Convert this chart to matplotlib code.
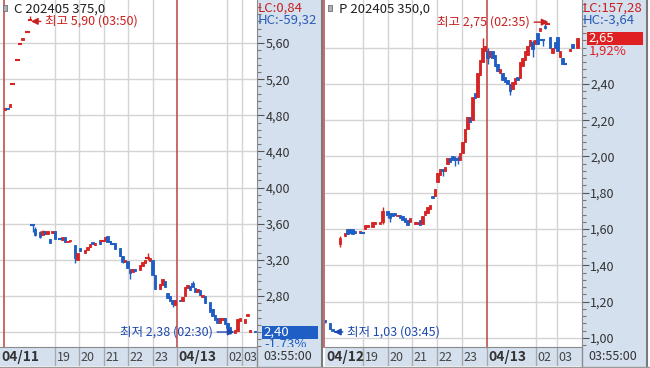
import matplotlib
matplotlib.use('Agg')
import matplotlib.pyplot as plt
import matplotlib.transforms as mtransforms
from matplotlib.patches import Rectangle
from matplotlib.ticker import FixedLocator, MultipleLocator, FuncFormatter

plt.rcParams['font.family'] = ['Noto Sans CJK KR', 'DejaVu Sans']
plt.rcParams['font.size'] = 9

# ---- call C 202405 375.0 (bar number, open, close, high, low) ----
c_slot = [2, 3, 4, 5, 7, 8, 9, 11, 12, 13, 14, 16, 17, 18, 19, 20, 21, 22, 24, 25,
          26, 27, 28, 30, 31, 32, 34, 35, 36, 37, 38, 40, 41, 42, 43, 44, 45, 46, 48, 49,
          50, 51, 52, 53, 54, 56, 57, 58, 59, 60, 61, 62, 64, 65, 66, 67, 68, 69, 70, 72,
          73, 74, 75, 76, 77, 78, 79, 80, 81, 82, 84, 85, 86, 87, 88, 89, 90, 91, 92, 94,
          95, 96, 98, 99, 100, 102]
c_open = [4.86, 4.88, 4.89, 5.15, 5.41, 5.59, 5.63, 5.72, 5.85, 3.58, 3.54, 3.51, 3.47, 3.52, 3.48, 3.43, 3.50, 3.52, 3.43, 3.42,
          3.45, 3.40, 3.41, 3.36, 3.20, 3.33, 3.27, 3.31, 3.34, 3.40, 3.36, 3.42, 3.41, 3.41, 3.46, 3.40, 3.37, 3.39, 3.33, 3.24,
          3.17, 3.19, 3.10, 3.06, 3.10, 3.09, 3.13, 3.16, 3.22, 3.19, 3.20, 3.03, 2.88, 2.92, 2.96, 2.83, 2.80, 2.76, 2.70, 2.76,
          2.74, 2.80, 2.89, 2.91, 2.94, 2.89, 2.84, 2.86, 2.79, 2.80, 2.73, 2.65, 2.59, 2.55, 2.50, 2.53, 2.55, 2.50, 2.45, 2.39,
          2.41, 2.52, 2.50, 2.58, 2.40, 2.41]
c_close = [4.88, 4.87, 4.92, 5.15, 5.41, 5.59, 5.66, 5.72, 5.85, 3.58, 3.47, 3.45, 3.52, 3.49, 3.52, 3.39, 3.52, 3.43, 3.43, 3.45,
           3.40, 3.41, 3.42, 3.22, 3.28, 3.30, 3.31, 3.34, 3.37, 3.37, 3.39, 3.38, 3.41, 3.45, 3.40, 3.40, 3.37, 3.32, 3.24, 3.17,
           3.20, 3.11, 3.05, 3.10, 3.08, 3.14, 3.17, 3.20, 3.22, 3.22, 3.03, 2.88, 2.93, 2.99, 2.90, 2.78, 2.74, 2.71, 2.76, 2.74,
           2.79, 2.90, 2.92, 2.86, 2.90, 2.84, 2.88, 2.81, 2.81, 2.72, 2.62, 2.58, 2.53, 2.50, 2.55, 2.56, 2.49, 2.44, 2.39, 2.42,
           2.54, 2.55, 2.54, 2.60, 2.42, 2.40]
c_high = [4.88, 4.88, 4.92, 5.15, 5.41, 5.59, 5.66, 5.72, 5.90, 3.58, 3.56, 3.52, 3.53, 3.52, 3.52, 3.43, 3.52, 3.52, 3.43, 3.45,
          3.45, 3.41, 3.42, 3.36, 3.28, 3.33, 3.31, 3.34, 3.37, 3.40, 3.39, 3.42, 3.41, 3.45, 3.46, 3.40, 3.37, 3.39, 3.33, 3.24,
          3.20, 3.19, 3.10, 3.10, 3.10, 3.14, 3.17, 3.20, 3.27, 3.22, 3.20, 3.03, 2.93, 2.99, 2.96, 2.83, 2.80, 2.76, 2.76, 2.76,
          2.79, 2.90, 2.92, 2.91, 2.96, 2.89, 2.88, 2.86, 2.81, 2.80, 2.73, 2.65, 2.59, 2.55, 2.55, 2.56, 2.55, 2.50, 2.46, 2.42,
          2.54, 2.55, 2.54, 2.60, 2.42, 2.41]
c_low = [4.86, 4.87, 4.89, 5.15, 5.41, 5.59, 5.63, 5.72, 5.85, 3.51, 3.46, 3.44, 3.47, 3.48, 3.48, 3.39, 3.50, 3.43, 3.43, 3.42,
         3.40, 3.40, 3.40, 3.16, 3.20, 3.30, 3.27, 3.31, 3.34, 3.37, 3.36, 3.38, 3.41, 3.41, 3.40, 3.40, 3.37, 3.32, 3.24, 3.16,
         3.17, 3.11, 2.99, 3.06, 3.08, 3.09, 3.13, 3.16, 3.20, 3.19, 3.03, 2.88, 2.88, 2.92, 2.90, 2.78, 2.74, 2.68, 2.70, 2.74,
         2.74, 2.80, 2.89, 2.86, 2.90, 2.84, 2.84, 2.81, 2.79, 2.72, 2.62, 2.58, 2.53, 2.50, 2.50, 2.53, 2.49, 2.44, 2.38, 2.39,
         2.41, 2.52, 2.50, 2.58, 2.40, 2.40]
c_ygrid = [2.40, 2.80, 3.20, 3.60, 4.00, 4.40, 4.80, 5.20, 5.60]
c_yticks = [2.80, 3.20, 3.60, 4.00, 4.40, 4.80, 5.20, 5.60]   # 2,40 sits under the price box
c_hour_pos = [0, 22, 31.6, 41.6, 51.2, 61.2, 70.8, 90.8, 96.8]
c_hour_lbl = ['04/11', '19', '20', '21', '22', '23', '04/13', '02', '03']
c_day_pos = [1.6, 70.8]

# ---- put P 202405 350.0 ----
p_slot = [0, 2, 3, 4, 6, 8, 9, 10, 11, 12, 14, 15, 16, 17, 19, 20, 22, 23, 25, 26,
          27, 28, 29, 30, 31, 32, 33, 34, 36, 37, 38, 39, 40, 41, 42, 43, 44, 45, 46, 47,
          48, 49, 50, 51, 52, 53, 54, 55, 56, 57, 58, 59, 60, 61, 62, 63, 64, 65, 66, 67,
          68, 69, 70, 71, 72, 73, 74, 75, 76, 77, 78, 79, 80, 81, 82, 83, 84, 85, 86, 87,
          88, 89, 90, 91, 92, 93, 94, 95, 96, 98, 99, 101]
p_open = [1.10, 1.08, 1.05, 1.04, 1.52, 1.56, 1.60, 1.60, 1.60, 1.59, 1.58, 1.58, 1.60, 1.61, 1.61, 1.63, 1.63, 1.64, 1.70, 1.69,
          1.69, 1.69, 1.67, 1.68, 1.67, 1.66, 1.65, 1.64, 1.63, 1.63, 1.65, 1.63, 1.68, 1.69, 1.71, 1.78, 1.78, 1.86, 1.90, 1.93,
          1.92, 1.96, 1.99, 2.00, 1.99, 1.99, 1.98, 2.02, 2.08, 2.15, 2.22, 2.20, 2.35, 2.33, 2.45, 2.52, 2.58, 2.58, 2.55, 2.58,
          2.56, 2.51, 2.46, 2.46, 2.44, 2.42, 2.40, 2.37, 2.40, 2.44, 2.43, 2.50, 2.53, 2.56, 2.61, 2.63, 2.62, 2.68, 2.69, 2.64,
          2.72, 2.73, 2.66, 2.57, 2.63, 2.66, 2.55, 2.54, 2.51, 2.58, 2.62, 2.60]
p_close = [1.09, 1.05, 1.04, 1.03, 1.55, 1.58, 1.57, 1.58, 1.57, 1.58, 1.59, 1.58, 1.62, 1.62, 1.64, 1.64, 1.64, 1.70, 1.68, 1.66,
           1.67, 1.68, 1.68, 1.66, 1.65, 1.64, 1.62, 1.66, 1.64, 1.64, 1.62, 1.67, 1.70, 1.72, 1.73, 1.77, 1.82, 1.91, 1.93, 1.92,
           1.94, 1.99, 1.97, 1.98, 1.98, 1.98, 2.02, 2.08, 2.15, 2.22, 2.19, 2.33, 2.32, 2.46, 2.53, 2.60, 2.61, 2.54, 2.58, 2.54,
           2.50, 2.47, 2.48, 2.42, 2.41, 2.40, 2.36, 2.41, 2.43, 2.42, 2.52, 2.54, 2.58, 2.61, 2.64, 2.59, 2.64, 2.62, 2.71, 2.64,
           2.71, 2.73, 2.60, 2.60, 2.60, 2.58, 2.58, 2.51, 2.51, 2.59, 2.60, 2.65]
p_high = [1.10, 1.08, 1.05, 1.04, 1.56, 1.58, 1.60, 1.60, 1.60, 1.59, 1.59, 1.58, 1.62, 1.62, 1.64, 1.64, 1.64, 1.72, 1.70, 1.69,
          1.69, 1.69, 1.68, 1.68, 1.67, 1.66, 1.65, 1.66, 1.64, 1.64, 1.65, 1.67, 1.70, 1.72, 1.73, 1.78, 1.82, 1.91, 1.93, 1.93,
          1.94, 1.99, 1.99, 2.00, 2.00, 2.00, 2.02, 2.08, 2.15, 2.22, 2.22, 2.33, 2.35, 2.46, 2.53, 2.65, 2.61, 2.60, 2.58, 2.58,
          2.56, 2.51, 2.48, 2.46, 2.44, 2.42, 2.40, 2.41, 2.43, 2.44, 2.52, 2.54, 2.58, 2.61, 2.64, 2.64, 2.64, 2.68, 2.71, 2.64,
          2.75, 2.73, 2.66, 2.60, 2.63, 2.66, 2.58, 2.54, 2.51, 2.59, 2.62, 2.65]
p_low = [1.08, 1.05, 1.04, 1.03, 1.50, 1.56, 1.57, 1.58, 1.57, 1.58, 1.58, 1.58, 1.60, 1.61, 1.61, 1.63, 1.63, 1.63, 1.66, 1.64,
         1.67, 1.68, 1.67, 1.66, 1.65, 1.64, 1.62, 1.64, 1.63, 1.63, 1.62, 1.63, 1.68, 1.69, 1.71, 1.77, 1.78, 1.86, 1.90, 1.89,
         1.92, 1.96, 1.97, 1.98, 1.95, 1.96, 1.98, 2.02, 2.08, 2.15, 2.19, 2.20, 2.32, 2.33, 2.45, 2.52, 2.58, 2.51, 2.55, 2.54,
         2.50, 2.47, 2.46, 2.42, 2.41, 2.40, 2.34, 2.37, 2.40, 2.42, 2.43, 2.50, 2.53, 2.56, 2.61, 2.55, 2.62, 2.62, 2.69, 2.61,
         2.70, 2.73, 2.60, 2.57, 2.60, 2.58, 2.55, 2.51, 2.51, 2.58, 2.60, 2.60]
p_ygrid = [1.00, 1.20, 1.40, 1.60, 1.80, 2.00, 2.20, 2.40, 2.60]
p_yticks = [1.00, 1.20, 1.40, 1.60, 1.80, 2.00, 2.20, 2.40]   # 2,60 sits under the change text
p_hour_pos = [0, 15.2, 25.2, 34.8, 44.8, 54.8, 64.8, 84.4, 92.8]
p_hour_lbl = ['04/12', '19', '20', '21', '22', '23', '04/13', '02', '03']
p_day_pos = [-0.4, 64.8]

W, H = 650, 368
RED = '#d62424'
BLUE = '#1f5ec4'
TXT_RED = '#c8201e'
TXT_BLUE = '#1d48b0'
GRID = '#d4d4d4'
DAYLINE = '#c25050'
STRIP = '#d5e0ef'
EDGE = '#8a8a8a'

fig = plt.figure(figsize=(W / 100, H / 100), dpi=100)


def px_rect(x0, y0, x1, y1):
    return [x0 / W, 1 - y1 / H, (x1 - x0) / W, (y1 - y0) / H]


def fig_text(x, y, s, **kw):
    fig.text(x / W, 1 - y / H, s, va='center', **kw)


def comma(v, pos=None):
    return ('%.2f' % v).replace('.', ',')


def draw(x0, slot, op, cl, hi, lo, ylim, ygrid, yticks, minor, hour_pos, hour_lbl, day_pos):
    # right value strip background
    fig.add_artist(Rectangle(((x0 + 257) / W, 0), 64 / W, 1, transform=fig.transFigure,
                             facecolor=STRIP, edgecolor='none', zorder=-1))

    ax = fig.add_axes(px_rect(x0, 0, x0 + 257, 347))
    ax.set_xlim(0, 102.8)
    ax.set_ylim(*ylim)
    for s in ['top', 'left', 'bottom']:
        ax.spines[s].set_visible(False)
    ax.spines['right'].set_color(EDGE)
    ax.set_xticks([])
    ax.yaxis.tick_right()
    ax.yaxis.set_major_locator(FixedLocator(yticks))
    ax.yaxis.set_minor_locator(MultipleLocator(minor))
    ax.yaxis.set_major_formatter(FuncFormatter(comma))
    ax.tick_params(axis='y', which='major', direction='out', length=5, width=0.8,
                   color='#555555', pad=1, labelsize=9, labelcolor='#333333')
    ax.tick_params(axis='y', which='minor', direction='out', length=3, width=0.8, color='#777777')
    for t in ygrid:
        ax.axhline(t, color=GRID, lw=1, zorder=1)
    for p in hour_pos[1:]:
        if p not in day_pos:
            ax.axvline(p, color=GRID, lw=1, zorder=1)
    for p in day_pos:
        ax.axvline(p, color=DAYLINE, lw=1.2, zorder=1, clip_on=False)

    cols = []
    for i in range(len(op)):
        if cl[i] > op[i]:
            cols.append(RED)
        elif cl[i] < op[i]:
            cols.append(BLUE)
        else:
            cols.append(RED if i > 0 and cl[i] > cl[i - 1] else BLUE)
    body_lo = [min(a, b) for a, b in zip(op, cl)]
    body_h = [abs(a - b) for a, b in zip(op, cl)]
    ax.vlines(slot, lo, hi, colors=cols, lw=1, zorder=3)
    ax.bar(slot, body_h, bottom=body_lo, width=1.15, color=cols, edgecolor=cols, lw=0.6, zorder=4)
    dj = [i for i in range(len(op)) if body_h[i] == 0]
    ax.hlines([cl[i] for i in dj], [slot[i] - 0.9 for i in dj], [slot[i] + 0.9 for i in dj],
              colors=[cols[i] for i in dj], lw=1.5, zorder=4)

    # bottom time strip
    bx = fig.add_axes(px_rect(x0, 347, x0 + 257, 366))
    bx.set_xlim(0, 102.8)
    bx.set_ylim(0, 1)
    bx.set_facecolor(STRIP)
    bx.set_xticks([])
    bx.set_yticks([])
    for s in ['left', 'bottom', 'right']:
        bx.spines[s].set_visible(False)
    bx.spines['top'].set_color(EDGE)
    bx.vlines(hour_pos[1:], 0, 1, color='#a8a8a8', lw=1)
    off = mtransforms.offset_copy(bx.transData, fig=fig, x=1.5, y=0, units='dots')
    for p, s in zip(hour_pos, hour_lbl):
        bold = '/' in s
        bx.text(p, 0.45, s, transform=off, ha='left', va='center', fontsize=10 if bold else 9,
                fontweight='bold' if bold else 'normal', color='#333333' if bold else '#444444')
    return ax


# left panel: call
axc = draw(0, c_slot, c_open, c_close, c_high, c_low, (2.234, 6.077), c_ygrid, c_yticks, 0.08,
           c_hour_pos, c_hour_lbl, c_day_pos)
# right panel: put
axp = draw(325, p_slot, p_open, p_close, p_high, p_low, (0.950, 2.862), p_ygrid, p_yticks, 0.04,
           p_hour_pos, p_hour_lbl, p_day_pos)

# high / low annotations
arrow = dict(arrowstyle='-|>', lw=1, mutation_scale=10, shrinkA=1, shrinkB=0)
axc.annotate('최고 5,90 (03:50)', xy=(12.4, 5.84), xytext=(18, 5.84), ha='left', va='center',
             color=TXT_RED, fontsize=9, arrowprops=dict(arrow, color=TXT_RED), zorder=6)
axc.annotate('최저 2,38 (02:30)', xy=(93.8, 2.40), xytext=(85.2, 2.40), ha='right', va='center',
             color=TXT_BLUE, fontsize=9, arrowprops=dict(arrow, color=TXT_BLUE), zorder=6)
axp.annotate('최고 2,75 (02:35)', xy=(89.4, 2.74), xytext=(82, 2.74), ha='right', va='center',
             color=TXT_RED, fontsize=9, arrowprops=dict(arrow, color=TXT_RED), zorder=6)
axp.annotate('최저 1,03 (03:45)', xy=(3.6, 1.033), xytext=(8.8, 1.033), ha='left', va='center',
             color=TXT_BLUE, fontsize=9, arrowprops=dict(arrow, color=TXT_BLUE), zorder=6)


def last_price(ax, price, txt, pct, col, ppu):
    tr = mtransforms.blended_transform_factory(ax.transAxes, ax.transData)
    ax.add_patch(Rectangle((1.019, price - 6.5 / ppu), 0.218, 13 / ppu, transform=tr,
                           facecolor=col, edgecolor='none', clip_on=False, zorder=6))
    ax.text(1.027, price, txt, transform=tr, color='white', ha='left', va='center',
            fontsize=9.5, clip_on=False, zorder=7)
    ax.text(1.027, price - 12.5 / ppu, pct, transform=tr, color=col, ha='left', va='center',
            fontsize=9.5, clip_on=False, zorder=7)


last_price(axc, 2.40, '2,40', '-1,73%', BLUE, 347 / (6.077 - 2.234))
last_price(axp, 2.65, '2,65', '1,92%', '#e02020', 347 / (2.862 - 0.950))

# headers
for x0, name, lc, hc in [(0, 'C 202405 375,0', 'LC:0,84', 'HC:-59,32'),
                         (325, 'P 202405 350,0', 'LC:157,28', 'HC:-3,64')]:
    fig.add_artist(Rectangle(((x0 + 3) / W, 1 - 11 / H), 4 / W, 6 / H, transform=fig.transFigure,
                             facecolor='#b0b0b0', edgecolor='#707070', lw=0.6))
    fig_text(x0 + 14, 9, name, color='#202020', fontsize=9.5)
    fig_text(x0 + 258, 8, lc, color=TXT_RED, fontsize=9.5)
    fig_text(x0 + 258, 20, hc, color='#2a5bb5', fontsize=9.5)
    fig.add_artist(Rectangle(((x0 + 257) / W, 1 - 366 / H), 64 / W, 19 / H, transform=fig.transFigure,
                             facecolor=STRIP, edgecolor='none', zorder=2))
    fig_text(x0 + 263, 356, '03:55:00', color='#333333', fontsize=9, zorder=3)
    fig.add_artist(plt.Line2D([(x0 + 321.5) / W] * 2, [0, 1], transform=fig.transFigure,
                              color='#7a7a7a', lw=1.5))
    fig.add_artist(plt.Line2D([(x0 + 257) / W] * 2, [1 - 366 / H, 1 - 347 / H], transform=fig.transFigure,
                              color=EDGE, lw=1, zorder=3))

fig.add_artist(plt.Line2D([0, 1], [1 - 366.5 / H] * 2, transform=fig.transFigure, color='#9a9a9a', lw=1))

fig.savefig('out.png', dpi=100, facecolor='white')
